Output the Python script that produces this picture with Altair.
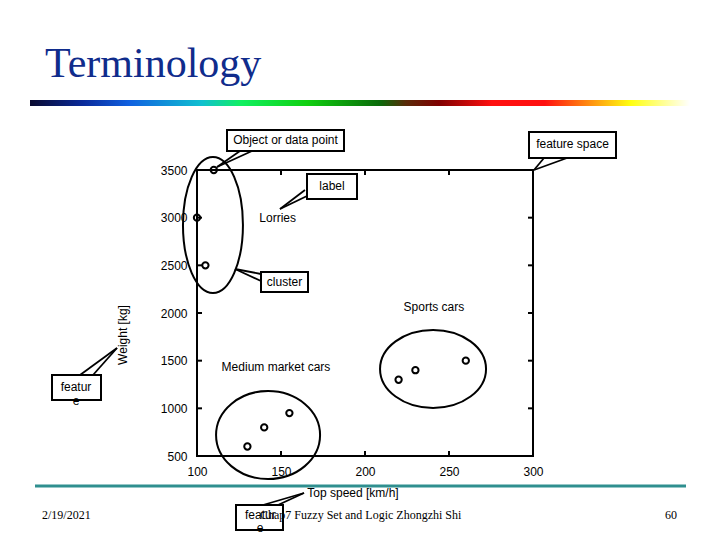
import altair as alt
import pandas as pd

# ---------------- data ----------------
lorry_speed = [110, 100, 105]
lorry_weight = [3500, 3000, 2500]
medium_speed = [130, 140, 155]
medium_weight = [600, 800, 950]
sports_speed = [220, 230, 260]
sports_weight = [1300, 1400, 1500]

# cluster ellipse centres (data units)
cluster_names = ["Lorries", "Medium market cars", "Sports cars"]
cluster_center_speed = [109.5, 142.3, 240.5]
cluster_center_weight = [2923, 720, 1413]

# cluster labels
label_texts = ["Lorries", "Sports cars", "Medium market cars"]
label_speed = [148, 241, 147]
label_weight = [2997, 2063, 1434]

x_tick_values = [100, 150, 200, 250, 300]
y_tick_values = [500, 1000, 1500, 2000, 2500, 3000, 3500]
inner_x_ticks = [150, 200, 250]
inner_y_ticks = [1000, 1500, 2000, 2500, 3000]

title_text = "Terminology"
x_title = "Top speed [km/h]"
y_title = "Weight [kg]"
footer_date = "2/19/2021"
footer_text = "Chap7 Fuzzy Set and Logic Zhongzhi Shi"
footer_page = "60"

# ---------------- tables ----------------
points = pd.DataFrame({
    "speed": lorry_speed + medium_speed + sports_speed,
    "weight": lorry_weight + medium_weight + sports_weight,
})
centers = pd.DataFrame({
    "name": cluster_names,
    "speed": cluster_center_speed,
    "weight": cluster_center_weight,
})
labels = pd.DataFrame({"label": label_texts, "speed": label_speed, "weight": label_weight})
xt = pd.DataFrame({"speed": inner_x_ticks})
yt = pd.DataFrame({"weight": inner_y_ticks})
one = pd.DataFrame({"k": [0]})

W, H = 336, 286
FONT = "Liberation Sans"
SERIF = "Liberation Serif"

xs = alt.Scale(domain=[100, 300], nice=False, zero=False)
ys = alt.Scale(domain=[500, 3500], nice=False, zero=False)
x_axis = alt.Axis(values=x_tick_values, title=None, grid=False, ticks=False, tickSize=0,
                  domain=False, labelPadding=10, labelFont=FONT, labelFontSize=12,
                  labelColor="black", format="d", labelFlush=False, labelOverlap=False)
y_axis = alt.Axis(values=y_tick_values, title=None, grid=False, ticks=False, tickSize=0,
                  domain=False, labelPadding=10, labelFont=FONT, labelFontSize=12,
                  labelColor="black", format="d", labelFlush=False, labelOverlap=False)
X = alt.X("speed:Q", scale=xs, axis=x_axis)
Y = alt.Y("weight:Q", scale=ys, axis=y_axis)


def text_at(txt, x, y, size=12, font=FONT, align="center", baseline="middle", angle=0, color="black"):
    return alt.Chart(one).mark_text(text=txt, font=font, fontSize=size, align=align,
                                    baseline=baseline, angle=angle, color=color).encode(
        x=alt.value(x), y=alt.value(y))


def rule_at(x1, y1, x2, y2, color="black", width=1.8):
    return alt.Chart(one).mark_rule(color=color, strokeWidth=width).encode(
        x=alt.value(x1), y=alt.value(y1), x2=alt.value(x2), y2=alt.value(y2))


def box_at(x1, y1, x2, y2):
    return alt.Chart(one).mark_rect(fill="white", stroke="black", strokeWidth=2).encode(
        x=alt.value(x1), y=alt.value(y1), x2=alt.value(x2), y2=alt.value(y2))


def callout(box, tip, b1, b2):
    return [rule_at(tip[0], tip[1], b1[0], b1[1]), rule_at(tip[0], tip[1], b2[0], b2[1]),
            box_at(*box)]


# ---------------- slide decorations ----------------
grad = alt.LinearGradient(
    gradient="linear", x1=0, x2=1, y1=0, y2=0,
    stops=[
        alt.GradientStop(color="#0a0a30", offset=0.0),
        alt.GradientStop(color="#0a2a9a", offset=0.08),
        alt.GradientStop(color="#1060e0", offset=0.15),
        alt.GradientStop(color="#10c0d0", offset=0.26),
        alt.GradientStop(color="#10f060", offset=0.32),
        alt.GradientStop(color="#10d010", offset=0.42),
        alt.GradientStop(color="#0a6a0a", offset=0.53),
        alt.GradientStop(color="#5a2a08", offset=0.57),
        alt.GradientStop(color="#800000", offset=0.62),
        alt.GradientStop(color="#ff1010", offset=0.70),
        alt.GradientStop(color="#ff1010", offset=0.78),
        alt.GradientStop(color="#ff8010", offset=0.84),
        alt.GradientStop(color="#ffff10", offset=0.91),
        alt.GradientStop(color="#ffffff", offset=1.0),
    ],
)
grad_bar = alt.Chart(one).mark_rect(fill=grad).encode(
    x=alt.value(-167), x2=alt.value(493), y=alt.value(-70), y2=alt.value(-64))

layers = [
    grad_bar,
    text_at(title_text, -152, -93, size=42, font=SERIF, align="left", baseline="alphabetic",
            color="#102C8C"),
    rule_at(-162, 316, 489, 316, color="#2F8F8F", width=3),
]

# ---------------- plot ----------------
for name, k, big in [("Lorries", 30 / 68, 68), ("Medium market cars", 44 / 52, 52),
                     ("Sports cars", 39 / 53, 53)]:
    if name == "Lorries":
        path = f"M 0 -1 A {k:.3f} 1 0 1 1 0 1 A {k:.3f} 1 0 1 1 0 -1 Z"
    else:
        path = f"M -1 0 A 1 {k:.3f} 0 1 1 1 0 A 1 {k:.3f} 0 1 1 -1 0 Z"
    layers.append(
        alt.Chart(centers[centers["name"] == name]).mark_point(
            shape=path, size=(2 * big) ** 2, filled=False, stroke="black", strokeWidth=2,
            opacity=1).encode(x=X, y=Y))

layers += [
    alt.Chart(xt).mark_rule(color="black", strokeWidth=2).encode(x=X, y=alt.value(H), y2=alt.value(H - 5)),
    alt.Chart(xt).mark_rule(color="black", strokeWidth=2).encode(x=X, y=alt.value(0), y2=alt.value(5)),
    alt.Chart(yt).mark_rule(color="black", strokeWidth=2).encode(y=Y, x=alt.value(0), x2=alt.value(5)),
    alt.Chart(yt).mark_rule(color="black", strokeWidth=2).encode(y=Y, x=alt.value(W), x2=alt.value(W - 5)),
    alt.Chart(points).mark_point(shape="circle", size=40, filled=False, stroke="black",
                                 strokeWidth=2, opacity=1).encode(x=X, y=Y),
    alt.Chart(labels).mark_text(font=FONT, fontSize=12, color="black").encode(
        x=X, y=Y, text="label:N"),
    text_at(x_title, 156, 323),
    text_at(y_title, -74, 165, angle=270),
]

# ---------------- callouts ----------------
layers += callout((30, -40, 147, -19), (20, -3), (43, -19), (55, -19))
layers.append(text_at("Object or data point", 88.5, -30))
layers += callout((110, 4, 160, 29), (83, 39), (108, 20), (110, 26))
layers.append(text_at("label", 135, 16))
layers += callout((64, 102, 111, 122), (38, 99), (64, 104), (64, 111))
layers.append(text_at("cluster", 87.5, 112))
layers += callout((332, -38, 419, -12), (337, 0), (347, -12), (370, -12))
layers.append(text_at("feature space", 375.5, -26))
layers += callout((-145, 205, -96, 230), (-80, 178), (-117, 205), (-104, 205))
layers.append(text_at("featur", -121, 217))
layers.append(text_at("e", -121, 231))
layers += callout((39, 335, 86, 360), (107, 323), (66, 335), (81, 335))
layers.append(text_at("featur", 48, 345, align="left"))
layers.append(text_at("e", 63, 358))

# ---------------- footer ----------------
layers += [
    text_at(footer_date, -155, 345, font=SERIF, align="left"),
    text_at(footer_text, 63, 345, font=SERIF, align="left"),
    text_at(footer_page, 480, 345, font=SERIF, align="right"),
]

chart = alt.layer(*layers).properties(
    width=W, height=H,
    autosize=alt.AutoSizeParams(type="none"),
    padding={"left": 189, "top": 162, "right": 170, "bottom": 76},
    background="white",
).configure_view(stroke="black", strokeWidth=2)

chart.save("out.html", embed_options={"renderer": "svg", "actions": False})
